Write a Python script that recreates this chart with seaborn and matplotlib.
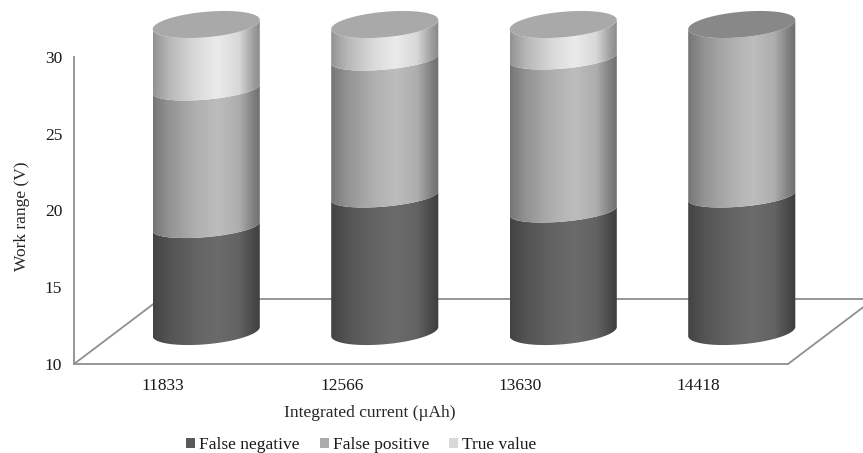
import numpy as np
import pandas as pd
import matplotlib
matplotlib.use('Agg')
import matplotlib.pyplot as plt
import seaborn as sns
from matplotlib.patches import Patch, Polygon

categories = ['11833', '12566', '13630', '14418']
false_negative = [6.84, 8.83, 7.85, 8.83]
false_positive = [8.96, 8.92, 9.97, 11.17]
true_value = [4.2, 2.25, 2.18, 0.0]
series_names = ['False negative', 'False positive', 'True value']
legend_colors = ['#595959', '#ababab', '#d9d9d9']
base_colors = [np.array([0.42, 0.42, 0.42]), np.array([0.74, 0.74, 0.74]), np.array([0.92, 0.92, 0.92])]
yticks = [10, 15, 20, 25, 30]

W, H = 863, 453
sns.set_theme(style='white')
plt.rcParams['font.family'] = ['Liberation Serif', 'DejaVu Serif']
plt.rcParams['text.color'] = '#1a1a1a'


def px_axes(fig, left, right, top, bottom):
    return fig.add_axes([left / W, 1 - bottom / H, (right - left) / W, (bottom - top) / H])


fig = plt.figure(figsize=(W / 100, H / 100), dpi=100)
ax = px_axes(fig, 74, 788, 57, 364)
# the bars sit half way back on the chart floor, so they get a shifted axes
depth = px_axes(fig, 74 + 43, 788 + 43, 57 - 32.5, 364 - 32.5)

line = '#8f8f8f'
for a in [ax, depth]:
    a.set_xlim(-0.5, 3.5)
    a.set_ylim(10, 30)

ax.set_xticks(range(4))
ax.set_xticklabels(categories)
ax.set_yticks(yticks)
ax.tick_params(axis='x', labelsize=12.5, length=0, colors='#1a1a1a', pad=10)
ax.tick_params(axis='y', labelsize=12.5, length=0, colors='#1a1a1a', pad=8.5)
sns.despine(ax=ax)
for s in ['left', 'bottom']:
    ax.spines[s].set_color(line)
    ax.spines[s].set_linewidth(1.3)
ax.set_xlabel('Integrated current (µAh)', fontsize=12.5)
ax.xaxis.set_label_coords(0.414, -0.135)
ax.set_ylabel('Work range (V)', fontsize=12.5)
ax.yaxis.set_label_coords(-0.062, 0.48)

# floor of the chart
kx = 1 / 178.5
ky = 1 / 15.35
back_x = -0.5 + 86 * kx
back_y = 10 + 65 * ky
ax.plot([-0.5, back_x, 4.2], [10, back_y, back_y], color=line, lw=1.3, clip_on=False)
ax.plot([3.5, 3.5 + 86 * kx], [10, back_y], color=line, lw=1.3, clip_on=False)

df = pd.DataFrame({'cat': categories, 'fn': false_negative, 'fp': false_positive, 'tv': true_value})
base = np.full(4, 10.0)
segments = []
for col in ['fn', 'fp', 'tv']:
    n = len(depth.patches)
    sns.barplot(data=df, x='cat', y=col, ax=depth, width=0.6, bottom=base, color='white')
    segments.append(depth.patches[n:])
    base = base + df[col].values
depth.set_xlim(-0.5, 3.5)
depth.set_ylim(10, 30)
depth.axis('off')
depth.patch.set_alpha(0)

shade_pos = [0, 0.05, 0.15, 0.4, 0.6, 0.8, 0.93, 1]
shade_val = [0.62, 0.68, 0.78, 0.93, 1.0, 0.92, 0.68, 0.58]
b_side, b_end, tilt = 0.69, 0.83, 0.3
t_front = np.linspace(np.pi, 2 * np.pi, 60)
u = np.linspace(0, 1, 256)
shade = np.interp(u, shade_pos, shade_val)

for s_i, bars in enumerate(segments):
    for i, bar in enumerate(bars):
        bar.set_visible(False)
        v0 = bar.get_y()
        v1 = v0 + bar.get_height()
        if bar.get_height() <= 0:
            continue
        cx = bar.get_x() + bar.get_width() / 2
        a = bar.get_width() / 2
        x_arc = cx + a * np.cos(t_front)
        is_top = v1 >= 29.99
        # the very bottom and top of a cylinder curve a bit more than the joints
        b_low = b_end if s_i == 0 else b_side
        b_up = b_end if is_top else b_side
        low = np.c_[x_arc, v0 + tilt * np.cos(t_front) + b_low * np.sin(t_front)]
        up = np.c_[x_arc, v1 + tilt * np.cos(t_front) + b_up * np.sin(t_front)][::-1]
        clip = Polygon(np.r_[low, up], closed=True, fc='none', ec='none', transform=depth.transData)
        depth.add_patch(clip)
        img = shade[None, :, None] * base_colors[s_i][None, None, :]
        im = depth.imshow(img, extent=(cx - a, cx + a, v0 - 1, v1 + 1), aspect='auto', zorder=2 + s_i)
        # images get cut to the axes box otherwise
        im.set_clip_box(fig.bbox)
        im.set_clip_path(clip)
        if is_top:
            t_all = np.linspace(0, 2 * np.pi, 120)
            xy = np.c_[cx + a * np.cos(t_all), v1 + tilt * np.cos(t_all) + b_end * np.sin(t_all)]
            depth.add_patch(Polygon(xy, closed=True, fc=base_colors[s_i] * 0.72, ec='none',
                                    zorder=6, clip_on=False))
depth.set_xlim(-0.5, 3.5)
depth.set_ylim(10, 30)

handles = [Patch(facecolor=c, edgecolor='none') for c in legend_colors]
fig.legend(handles, series_names, loc='center', bbox_to_anchor=(361.5 / W, 1 - 445 / H), ncol=3,
           frameon=False, fontsize=12.5, handlelength=0.52, handleheight=0.52, handletextpad=0.23,
           columnspacing=1.15, borderpad=0, borderaxespad=0)

fig.savefig('out.png', dpi=100)
